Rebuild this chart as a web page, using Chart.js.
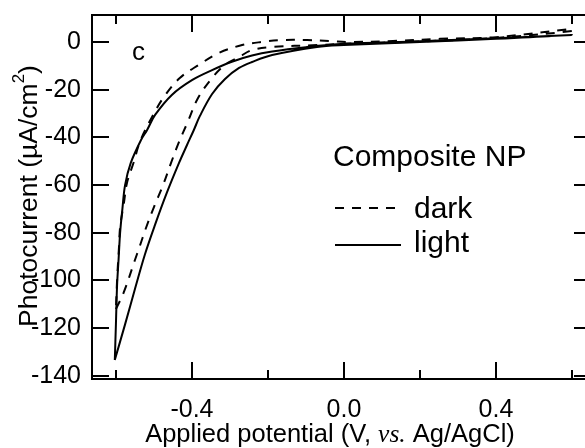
<!DOCTYPE html>
<html>
<head>
<meta charset="utf-8">
<script src="https://cdn.jsdelivr.net/npm/chart.js@4.4.1/dist/chart.umd.min.js"></script>
<style>
  html, body { margin: 0; padding: 0; background: #fff; overflow: hidden; }
  #wrap { width: 585px; height: 448px; overflow: hidden; }
  canvas { display: block; }
</style>
</head>
<body>
<div id="wrap"><canvas id="c" width="592" height="448"></canvas></div>
<script>
// ---- data (potential V vs Ag/AgCl, photocurrent uA/cm2) ----
const darkX = [-0.600, -0.579, -0.550, -0.539, -0.521, -0.500, -0.476, -0.455, -0.434, -0.411, -0.384, -0.347, -0.313, -0.276, -0.242, -0.189, -0.070, 0.000, 0.200, 0.400, 0.600, 0.600,
               0.400, 0.253, 0.129, 0.016, -0.037, -0.097, -0.161, -0.216, -0.268, -0.329, -0.382, -0.432, -0.474, -0.505, -0.537, -0.553, -0.571, -0.579, -0.589, -0.592, -0.597, -0.600];
const darkY = [-112, -104.8, -91.4, -86.4, -78.0, -69.2, -60.0, -50.7, -41.9, -33.5, -23.5, -15.1, -9.6, -6.3, -3.4, -2.1, -1.3, -0.8, 0.2, 1.7, 4.6, 5.4,
               2.0, 1.3, 0.4, 0.0, 0.4, 0.8, 0.8, 0.0, -1.3, -4.6, -9.6, -15.1, -23.1, -31.4, -41.9, -50.3, -59.1, -67.5, -77.6, -86.0, -99.8, -112];
const lightX = [-0.603, -0.576, -0.550, -0.524, -0.497, -0.466, -0.434, -0.413, -0.395, -0.379, -0.347, -0.313, -0.276, -0.242, -0.189, -0.071, 0.000, 0.200, 0.400, 0.600,
                0.400, 0.200, 0.000, -0.100, -0.189, -0.242, -0.295, -0.347, -0.400, -0.453, -0.497, -0.518, -0.534, -0.561, -0.576, -0.583, -0.589, -0.593, -0.597, -0.600, -0.603];
const lightY = [-133.3, -118.4, -103.6, -89.2, -76.6, -63.2, -50.7, -43.2, -36.9, -31.0, -21.8, -15.5, -10.9, -8.4, -5.5, -2.1, -1.3, 0.0, 1.3, 2.9,
                1.6, 0.3, -0.8, -2.2, -4.0, -5.7, -8.3, -11.8, -16.0, -22.2, -30.6, -36.9, -41.1, -50.7, -60.0, -70.0, -80.0, -91.0, -102.0, -118.0, -133.3];
const seriesLabels = ["dark", "light"];
const xTicks = [-0.6, -0.4, -0.2, 0.0, 0.2, 0.4, 0.6];
const xLabelled = [-0.4, 0.0, 0.4];
const yTicks = [0, -20, -40, -60, -80, -100, -120, -140];
const legendTitle = "Composite NP";
const panelLetter = "c";

const SANS = "'Liberation Sans', Arial, sans-serif";
const SERIF = "'Liberation Serif', 'Times New Roman', serif";

const pts = (xs, ys) => xs.map((x, i) => ({ x: x, y: ys[i] }));

const decor = {
  id: 'decor',
  afterDraw(chart) {
    const ctx = chart.ctx;
    const a = chart.chartArea;
    const xs = chart.scales.x, ys = chart.scales.y;
    ctx.save();
    ctx.strokeStyle = '#000';
    ctx.fillStyle = '#000';
    ctx.lineWidth = 2;
    // frame
    ctx.strokeRect(a.left, a.top, a.right - a.left, a.bottom - a.top);
    // inward ticks
    ctx.beginPath();
    xTicks.forEach(v => {
      const px = Math.round(xs.getPixelForValue(v));
      const major = xLabelled.some(m => Math.abs(m - v) < 1e-9);
      const len = major ? 17 : 9;
      ctx.moveTo(px, a.bottom); ctx.lineTo(px, a.bottom - len);
      ctx.moveTo(px, a.top); ctx.lineTo(px, a.top + len);
    });
    yTicks.forEach(v => {
      const py = Math.round(ys.getPixelForValue(v));
      ctx.moveTo(a.left, py); ctx.lineTo(a.left + 17, py);
      ctx.moveTo(a.right, py); ctx.lineTo(a.right - 17, py);
    });
    ctx.stroke();

    // panel letter
    ctx.textBaseline = 'alphabetic';
    ctx.textAlign = 'left';
    ctx.font = '26px ' + SANS;
    ctx.fillText(panelLetter, 132, 60);

    // legend
    ctx.font = '30px ' + SANS;
    ctx.fillText(legendTitle, 333, 166);
    chart.data.datasets.forEach((ds, i) => {
      const yy = [208, 245][i];
      const by = [218, 252][i];
      ctx.save();
      ctx.lineWidth = 2;
      ctx.setLineDash(ds.borderDash || []);
      ctx.beginPath();
      ctx.moveTo(335, yy); ctx.lineTo(401, yy);
      ctx.stroke();
      ctx.restore();
      ctx.fillText(ds.label, 414, by);
    });

    // x axis title with italic "vs."
    const parts = [
      { t: 'Applied potential (V, ', f: '25.5px ' + SANS },
      { t: 'vs.', f: 'italic 25.5px ' + SERIF },
      { t: ' Ag/AgCl)', f: '25.5px ' + SANS }
    ];
    let total = 0;
    parts.forEach(p => { ctx.font = p.f; p.w = ctx.measureText(p.t).width; total += p.w; });
    let x0 = 330 - total / 2;
    parts.forEach(p => { ctx.font = p.f; ctx.fillText(p.t, x0, 442); x0 += p.w; });

    // y axis title, rotated, with superscript 2
    ctx.save();
    ctx.translate(37, 196);
    ctx.rotate(-Math.PI / 2);
    const yp = [
      { t: 'Photocurrent (\u00B5A/cm', f: '26.5px ' + SANS, dy: 0 },
      { t: '2', f: '17px ' + SANS, dy: -13 },
      { t: ')', f: '26.5px ' + SANS, dy: 0 }
    ];
    let tw = 0;
    yp.forEach(p => { ctx.font = p.f; p.w = ctx.measureText(p.t).width; tw += p.w; });
    let s = -tw / 2;
    yp.forEach(p => { ctx.font = p.f; ctx.fillText(p.t, s, p.dy); s += p.w; });
    ctx.restore();

    ctx.restore();
  }
};

new Chart(document.getElementById('c'), {
  type: 'scatter',
  data: {
    datasets: [
      { label: seriesLabels[0], data: pts(darkX, darkY), showLine: true, borderColor: '#000', borderWidth: 2,
        borderDash: [9, 8], pointRadius: 0, tension: 0.35, fill: false },
      { label: seriesLabels[1], data: pts(lightX, lightY), showLine: true, borderColor: '#000', borderWidth: 2,
        pointRadius: 0, tension: 0.35, fill: false }
    ]
  },
  options: {
    responsive: false,
    animation: false,
    devicePixelRatio: 1,
    layout: { padding: { top: 15, right: 1, left: 0, bottom: 0 } },
    plugins: { legend: { display: false }, tooltip: { enabled: false } },
    scales: {
      x: {
        type: 'linear', min: -0.663, max: 0.650,
        grid: { display: false, drawTicks: false },
        border: { display: false },
        afterBuildTicks: sc => { sc.ticks = xTicks.map(v => ({ value: v })); },
        afterFit: sc => { sc.height = 69; sc.paddingLeft = 0; sc.paddingRight = 0; },
        ticks: {
          color: '#000', font: { family: SANS, size: 25 }, padding: 16, maxRotation: 0, autoSkip: false,
          callback: v => xLabelled.some(m => Math.abs(m - v) < 1e-9) ? (Math.abs(v) < 1e-9 ? '0.0' : v.toFixed(1)) : ''
        }
      },
      y: {
        type: 'linear', min: -141.3, max: 11.3,
        grid: { display: false, drawTicks: false },
        border: { display: false },
        afterBuildTicks: sc => { sc.ticks = yTicks.map(v => ({ value: v })); },
        afterFit: sc => { sc.width = 92; sc.paddingTop = 0; sc.paddingBottom = 0; },
        ticks: { color: '#000', font: { family: SANS, size: 25 }, padding: 11, autoSkip: false,
          callback: v => String(v) }
      }
    }
  },
  plugins: [decor]
});
</script>
</body>
</html>
